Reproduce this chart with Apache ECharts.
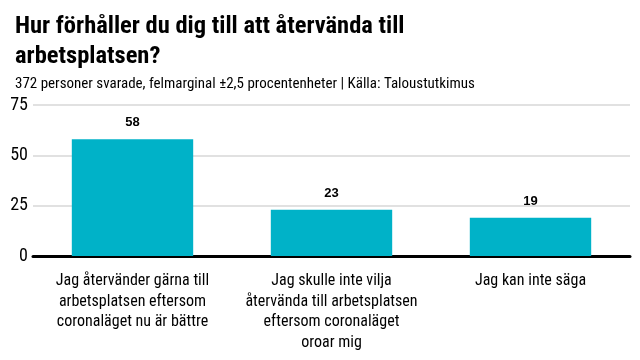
<!DOCTYPE html>
<html><head><meta charset="utf-8">
<script src="https://cdn.jsdelivr.net/npm/echarts@6/dist/echarts.min.js"></script>
<style>html,body{margin:0;padding:0;background:#fff}#c{width:640px;height:360px}</style>
</head><body><div id="c"></div>
<script>
const titleText = "Hur förhåller du dig till att återvända till\narbetsplatsen?";
const subtitleText = "372 personer svarade, felmarginal ±2,5 procentenheter | Källa: Taloustutkimus";
const categories = [
  "Jag återvänder gärna till\narbetsplatsen eftersom\ncoronaläget nu är bättre",
  "Jag skulle inte vilja\nåtervända till arbetsplatsen\neftersom coronaläget\noroar mig",
  "Jag kan inte säga"
];
const values = [58, 23, 19];
const yTicks = [0, 25, 50, 75];

const condensed = '"Roboto Condensed"';
const chart = echarts.init(document.getElementById('c'), null, {renderer: 'canvas'});
chart.setOption({
  animation: false,
  title: [{
    text: titleText,
    left: 10, top: 7,
    textStyle: {fontFamily: condensed, fontWeight: 'bold', fontSize: 24.5, lineHeight: 30, color: '#000'}
  }, {
    text: subtitleText,
    left: 10, top: 72,
    textStyle: {fontFamily: condensed, fontWeight: 'normal', fontSize: 15, color: '#000'}
  }],
  grid: {left: 33, right: 10, top: 105, bottom: 104, containLabel: false},
  xAxis: {
    type: 'category',
    data: categories,
    axisLine: {show: true, lineStyle: {color: '#000', width: 3}},
    axisTick: {show: false},
    axisLabel: {interval: 0, margin: 15, fontFamily: condensed, fontWeight: 'normal', fontSize: 16, lineHeight: 20.5, color: '#000', align: 'center'}
  },
  yAxis: {
    type: 'value',
    min: yTicks[0], max: yTicks[yTicks.length - 1], interval: 25,
    axisLine: {show: false},
    axisTick: {show: false},
    splitLine: {show: true, lineStyle: {color: '#e1e1e1', width: 2}},
    axisLabel: {margin: 5, fontFamily: condensed, fontWeight: 'normal', fontSize: 18, color: '#000'}
  },
  series: [{
    type: 'bar',
    data: values,
    barWidth: '61%',
    itemStyle: {color: '#00b2c8'},
    label: {show: true, position: 'top', distance: 10, fontFamily: 'Liberation Sans', fontWeight: 'bold', fontSize: 13, color: '#000'}
  }]
});
</script></body></html>
